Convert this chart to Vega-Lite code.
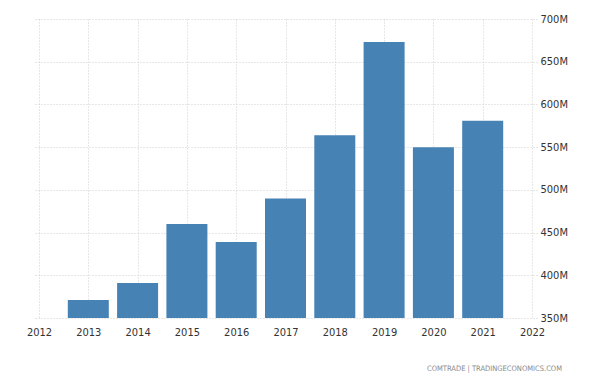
{
  "$schema": "https://vega.github.io/schema/vega-lite/v6.json",
  "width": 503,
  "height": 299,
  "autosize": "none",
  "padding": {"left": 34, "top": 19, "right": 63, "bottom": 57},
  "background": "white",
  "config": {"view": {"stroke": null}, "font": "DejaVu Sans"},
  "title": {
    "text": "COMTRADE | TRADINGECONOMICS.COM",
    "orient": "bottom",
    "anchor": "end",
    "frame": "group",
    "fontSize": 7.5,
    "fontWeight": "normal",
    "color": "#8a8a8a",
    "font": "DejaVu Sans Condensed",
    "offset": 28,
    "dx": 25
  },
  "data": {
    "values": [
      {"year": 2013, "value": 371000000},
      {"year": 2014, "value": 391000000},
      {"year": 2015, "value": 460000000},
      {"year": 2016, "value": 439000000},
      {"year": 2017, "value": 490000000},
      {"year": 2018, "value": 564000000},
      {"year": 2019, "value": 673000000},
      {"year": 2020, "value": 550000000},
      {"year": 2021, "value": 581000000}
    ]
  },
  "mark": {"type": "bar", "size": 41, "color": "#4682b4", "clip": true},
  "encoding": {
    "x": {
      "field": "year",
      "type": "quantitative",
      "scale": {"domain": [2012, 2022], "nice": false, "zero": false},
      "axis": {
        "title": null,
        "values": [2012, 2013, 2014, 2015, 2016, 2017, 2018, 2019, 2020, 2021, 2022],
        "format": "d",
        "domain": false,
        "ticks": false,
        "labelPadding": 8,
        "labelFontSize": 11,
        "labelColor": "#333333",
        "labelFont": "DejaVu Sans Condensed",
        "labelOverlap": false,
        "gridColor": "#cfcfcf",
        "gridDash": [1, 2],
        "labelFlush": false
      }
    },
    "y": {
      "field": "value",
      "type": "quantitative",
      "scale": {"domain": [350000000, 700000000], "nice": false, "zero": false},
      "axis": {
        "title": null,
        "orient": "right",
        "values": [350000000, 400000000, 450000000, 500000000, 550000000, 600000000, 650000000, 700000000],
        "labelExpr": "datum.value / 1000000 + 'M'",
        "domain": false,
        "ticks": false,
        "labelPadding": 3,
        "labelFontSize": 11,
        "labelColor": "#333333",
        "labelFont": "DejaVu Sans Condensed",
        "labelOverlap": false,
        "gridColor": "#cfcfcf",
        "gridDash": [1, 2],
        "labelFlush": false
      }
    }
  }
}
